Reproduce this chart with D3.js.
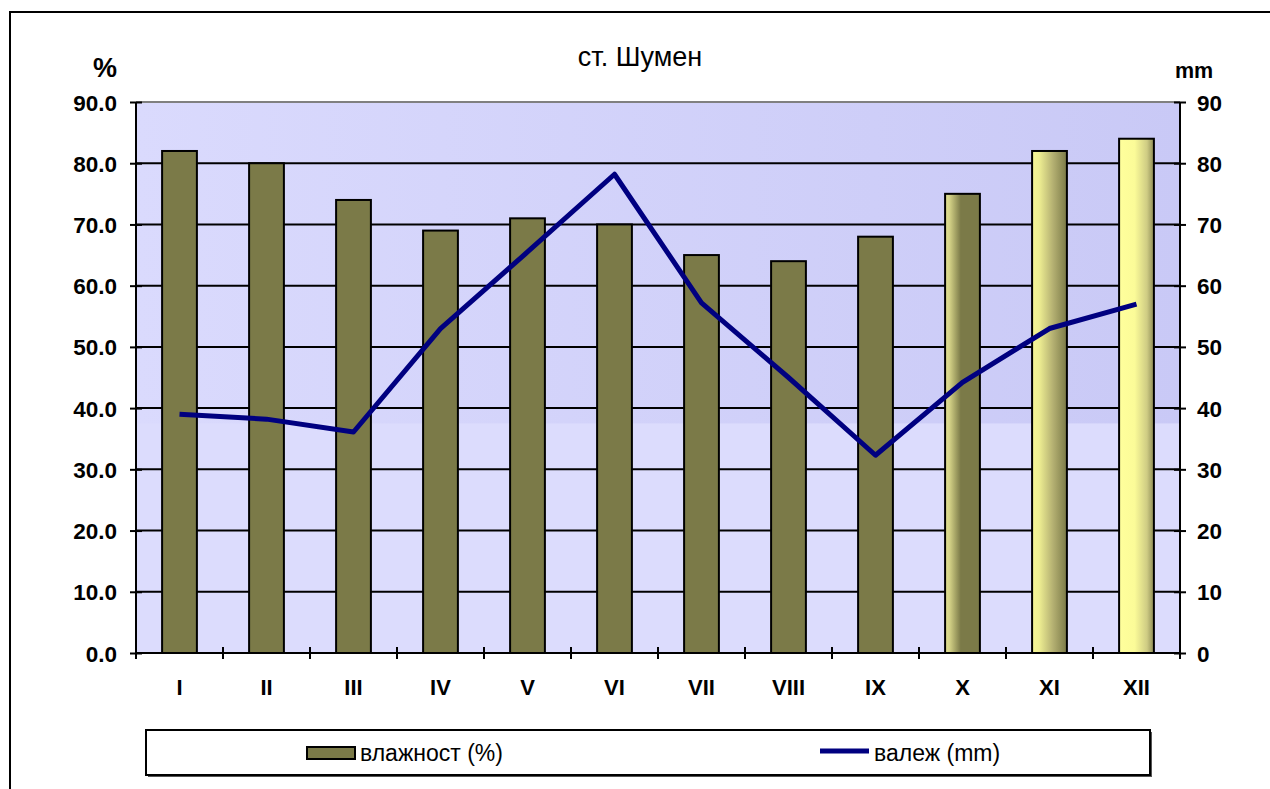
<!DOCTYPE html>
<html lang="bg">
<head>
<meta charset="utf-8">
<title>ст. Шумен</title>
<script src="https://cdnjs.cloudflare.com/ajax/libs/d3/7.8.5/d3.min.js"></script>
<style>
    body { margin: 0; background: #fff; }
    text { font-family: "Liberation Sans", Arial, sans-serif; fill: #000; }
    .bold { font-weight: bold; }
</style>
</head>
<body>
<svg id="chart" width="1270" height="789"></svg>
<script>
    // data
    const months = ["I", "II", "III", "IV", "V", "VI", "VII", "VIII", "IX", "X", "XI", "XII"];
    const humidity = [82, 80, 74, 69, 71, 70, 65, 64, 68, 75, 82, 84];          // влажност (%)
    const precip = [39, 38.2, 36.1, 53, 65.5, 78.2, 57.2, 45, 32.3, 44.2, 53, 57]; // валеж (mm)
    const yTicks = [0, 10, 20, 30, 40, 50, 60, 70, 80, 90];

    const olive = "#7b7a48";
    const navy = "#000080";

    const svg = d3.select("#chart");

    // plot area
    const plotL = 136, plotR = 1180, plotT = 102, plotB = 653;

    const x = d3.scaleBand()
        .domain(months)
        .range([plotL, plotR])
        .paddingInner(0.6)
        .paddingOuter(0.3);
    const yL = d3.scaleLinear().domain([0, 90]).range([plotB, plotT]);
    const yR = d3.scaleLinear().domain([0, 90]).range([plotB, plotT]);

    const defs = svg.append("defs");

    // background gradient of the upper band
    const bg = defs.append("linearGradient").attr("id", "bgUp")
        .attr("x1", 0).attr("x2", 1).attr("y1", 0).attr("y2", 0);
    bg.append("stop").attr("offset", 0).attr("stop-color", "#dadafd");
    bg.append("stop").attr("offset", 1).attr("stop-color", "#c9c9f6");

    // fill effects on the last three bars
    const barFills = {
        "X": [[0, "#e2e294"], [0.12, "#d6d488"], [0.45, "#7b7a48"], [1, "#7b7a48"]],
        "XI": [[0, "#f6f696"], [0.2, "#eeee92"], [0.6, "#b4b072"], [1, "#7b7a48"]],
        "XII": [[0, "#ffff9c"], [0.45, "#fbfb98"], [0.8, "#cfcc84"], [1, "#8e8c56"]]
    };
    Object.keys(barFills).forEach(function(k) {
        const g = defs.append("linearGradient").attr("id", "bar" + k)
            .attr("x1", 0).attr("x2", 1).attr("y1", 0).attr("y2", 0);
        barFills[k].forEach(function(s) {
            g.append("stop").attr("offset", s[0]).attr("stop-color", s[1]);
        });
    });

    // outer frame (cut off at right and bottom)
    svg.append("path")
        .attr("d", "M10,789 V12 H1270")
        .attr("fill", "none")
        .attr("stroke", "#000")
        .attr("stroke-width", 2);

    // plot background
    svg.append("rect")
        .attr("x", plotL).attr("y", plotT)
        .attr("width", plotR - plotL).attr("height", plotB - plotT)
        .attr("fill", "#dcdcfd");
    svg.append("rect")
        .attr("x", plotL).attr("y", plotT)
        .attr("width", plotR - plotL).attr("height", yL(37.5) - plotT)
        .attr("fill", "url(#bgUp)");

    // gridlines
    svg.append("g")
        .selectAll("line")
        .data(yTicks.filter(function(d) { return d > 0; }))
        .enter().append("line")
        .attr("x1", plotL).attr("x2", plotR)
        .attr("y1", function(d) { return yL(d); })
        .attr("y2", function(d) { return yL(d); })
        .attr("stroke", function(d) { return d === 90 ? "#808080" : "#000"; })
        .attr("stroke-width", 2);

    // bars
    svg.append("g")
        .selectAll("rect")
        .data(months)
        .enter().append("rect")
        .attr("x", function(d) { return x(d); })
        .attr("width", x.bandwidth())
        .attr("y", function(d, i) { return yL(humidity[i]); })
        .attr("height", function(d, i) { return plotB - yL(humidity[i]); })
        .attr("fill", function(d) { return barFills[d] ? "url(#bar" + d + ")" : olive; })
        .attr("stroke", "#000")
        .attr("stroke-width", 2);

    // precipitation line
    const line = d3.line()
        .x(function(d, i) { return x(months[i]) + x.bandwidth() / 2; })
        .y(function(d) { return yR(d); });
    svg.append("path")
        .datum(precip)
        .attr("d", line)
        .attr("fill", "none")
        .attr("stroke", navy)
        .attr("stroke-width", 5)
        .attr("stroke-linejoin", "round");

    // axes
    const axL = svg.append("g")
        .attr("transform", "translate(" + plotL + ",0)")
        .call(d3.axisLeft(yL).tickValues(yTicks).tickFormat(d3.format(".1f")).tickSize(6).tickPadding(13));
    const axR = svg.append("g")
        .attr("transform", "translate(" + plotR + ",0)")
        .call(d3.axisRight(yR).tickValues(yTicks).tickFormat(d3.format("d")).tickSize(6).tickPadding(11));
    const axB = svg.append("g")
        .attr("transform", "translate(0," + plotB + ")")
        .call(d3.axisBottom(x).tickSize(0).tickPadding(26));

    [axL, axR, axB].forEach(function(a) {
        a.select(".domain").attr("stroke", "#000").attr("stroke-width", 2);
        a.selectAll("text")
            .style("font-family", "'Liberation Sans', Arial, sans-serif")
            .style("font-weight", "bold")
            .attr("fill", "#000");
    });
    axL.select(".domain").attr("d", "M0," + plotB + "V" + plotT);
    axR.select(".domain").attr("d", "M0," + plotB + "V" + plotT);
    axB.select(".domain").attr("d", "M" + plotL + ",0H" + plotR);
    axL.selectAll(".tick line").attr("x1", -6).attr("x2", 6).attr("stroke-width", 2);
    axR.selectAll(".tick line").attr("x1", -6).attr("x2", 6).attr("stroke-width", 2);
    axL.selectAll("text").style("font-size", "22.5px").attr("dy", "0.36em");
    axR.selectAll("text").style("font-size", "22.5px").attr("dy", "0.36em");
    axB.selectAll("text").style("font-size", "22px").attr("dy", "0.71em");

    // category boundary ticks on x axis
    svg.append("g")
        .selectAll("line")
        .data(d3.range(months.length + 1))
        .enter().append("line")
        .attr("x1", function(i) { return plotL + i * x.step(); })
        .attr("x2", function(i) { return plotL + i * x.step(); })
        .attr("y1", plotB - 6).attr("y2", plotB + 6)
        .attr("stroke", "#000").attr("stroke-width", 2);

    // titles
    svg.append("text")
        .attr("x", 640).attr("y", 66)
        .attr("text-anchor", "middle")
        .style("font-size", "27px")
        .text("ст. Шумен");
    svg.append("text")
        .attr("class", "bold")
        .attr("x", 105).attr("y", 77)
        .attr("text-anchor", "middle")
        .style("font-size", "27px")
        .text("%");
    svg.append("text")
        .attr("class", "bold")
        .attr("x", 1194).attr("y", 78)
        .attr("text-anchor", "middle")
        .style("font-size", "21.5px")
        .text("mm");

    // legend
    const lg = svg.append("g");
    lg.append("rect")
        .attr("x", 148).attr("y", 732).attr("width", 1004).attr("height", 45)
        .attr("fill", "#555");
    lg.append("rect")
        .attr("x", 146).attr("y", 730).attr("width", 1004).attr("height", 45)
        .attr("fill", "#fff").attr("stroke", "#000").attr("stroke-width", 2);
    lg.append("rect")
        .attr("x", 307).attr("y", 747).attr("width", 48).attr("height", 12)
        .attr("fill", olive).attr("stroke", "#000").attr("stroke-width", 2);
    lg.append("text")
        .attr("x", 360).attr("y", 761)
        .style("font-size", "23px")
        .text("влажност (%)");
    lg.append("line")
        .attr("x1", 820).attr("x2", 869).attr("y1", 751).attr("y2", 751)
        .attr("stroke", navy).attr("stroke-width", 5);
    lg.append("text")
        .attr("x", 874).attr("y", 761)
        .style("font-size", "23px")
        .text("валеж (mm)");
</script>
</body>
</html>
